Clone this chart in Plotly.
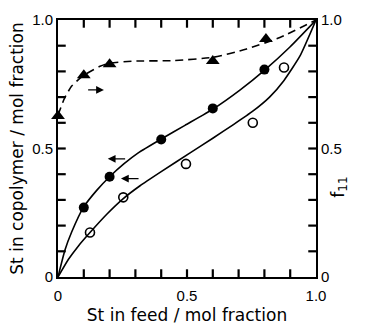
import plotly.graph_objects as go

# Data points
filled_x = [0.1, 0.2, 0.4, 0.6, 0.8]
filled_y = [0.27, 0.39, 0.535, 0.656, 0.807]

open_x = [0.124, 0.253, 0.496, 0.755, 0.876]
open_y = [0.173, 0.31, 0.44, 0.60, 0.815]

tri_x = [0.0, 0.1, 0.2, 0.6, 0.806]
tri_y = [0.626, 0.785, 0.828, 0.84, 0.926]

# Curves
upper_x = [0.0, 0.027, 0.053, 0.098, 0.15, 0.2, 0.255, 0.311, 0.402, 0.492, 0.602, 0.705, 0.802, 0.899, 1.0]
upper_y = [0.0, 0.105, 0.175, 0.27, 0.337, 0.39, 0.44, 0.483, 0.538, 0.59, 0.654, 0.727, 0.806, 0.895, 1.0]

lower_x = [0.0, 0.04, 0.08, 0.124, 0.19, 0.253, 0.318, 0.4, 0.512, 0.6, 0.68, 0.755, 0.82, 0.876, 0.938, 1.0]
lower_y = [0.0, 0.068, 0.122, 0.173, 0.245, 0.305, 0.355, 0.41, 0.483, 0.54, 0.593, 0.645, 0.7, 0.765, 0.86, 1.0]

dash_x = [0.0, 0.025, 0.053, 0.1, 0.163, 0.2, 0.292, 0.447, 0.602, 0.731, 0.86, 1.0]
dash_y = [0.63, 0.695, 0.743, 0.785, 0.82, 0.832, 0.84, 0.842, 0.855, 0.887, 0.932, 1.0]

major_vals = [0.0, 0.5, 1.0]
major_text = ["0", "0.5", "1.0"]
tick_positions = [0.1, 0.2, 0.3, 0.4, 0.5, 0.6, 0.7, 0.8, 0.9]

FONT = "DejaVu Sans"
TICKFONT = "Liberation Sans"
fig = go.Figure()

# Inward tick marks on all four sides (axis decoration, built from tick positions)
TLEN = 0.03
tx, ty = [], []
for v in tick_positions:
    tx += [v, v, None, v, v, None, 0, TLEN, None, 1, 1 - TLEN, None]
    ty += [0, TLEN, None, 1, 1 - TLEN, None, v, v, None, v, v, None]
fig.add_trace(go.Scatter(x=tx, y=ty, mode="lines", line=dict(color="black", width=2.2),
                         hoverinfo="skip", showlegend=False, cliponaxis=False))

line_style = dict(color="black", width=1.6, shape="spline", smoothing=0.5)
fig.add_trace(go.Scatter(x=upper_x, y=upper_y, mode="lines", line=line_style, showlegend=False))
fig.add_trace(go.Scatter(x=lower_x, y=lower_y, mode="lines", line=line_style, showlegend=False))
fig.add_trace(go.Scatter(x=dash_x, y=dash_y, mode="lines", yaxis="y2",
                         line=dict(color="black", width=1.6, dash="8px,5px", shape="spline", smoothing=0.5),
                         showlegend=False))

fig.add_trace(go.Scatter(x=filled_x, y=filled_y, mode="markers",
                         marker=dict(symbol="circle", size=10, color="black"), showlegend=False))
fig.add_trace(go.Scatter(x=open_x, y=open_y, mode="markers",
                         marker=dict(symbol="circle-open", size=9, color="black", line=dict(width=1.6)),
                         showlegend=False))
fig.add_trace(go.Scatter(x=tri_x, y=tri_y, mode="markers", yaxis="y2", cliponaxis=False,
                         marker=dict(symbol="triangle-up", size=12, color="black"), showlegend=False))

axis_common = dict(range=[0, 1], tickmode="array", tickvals=major_vals, ticktext=major_text,
                   ticks="", showline=True, linecolor="black", linewidth=2, automargin=False,
                   showgrid=False, zeroline=False, tickfont=dict(family=TICKFONT, size=15, color="black"))

fig.update_layout(
    width=365, height=325,
    margin=dict(l=58, r=49, t=20, b=48),
    plot_bgcolor="white", paper_bgcolor="white",
    xaxis=dict(**axis_common, mirror=True, ticklabelstandoff=4,
               title=dict(text="St in feed / mol fraction", font=dict(family=FONT, size=17, color="black"), standoff=6)),
    yaxis=dict(**axis_common,
               title=dict(text="St in copolymer / mol fraction", font=dict(family=FONT, size=17, color="black"), standoff=4)),
    yaxis2=dict(**axis_common, overlaying="y", side="right"),
)

# Arrows
arrow = dict(showarrow=True, arrowhead=2, arrowsize=1.2, arrowwidth=1.3, arrowcolor="black",
             text="", axref="x", ayref="y", xref="x", yref="y")
fig.add_annotation(x=0.178, y=0.728, ax=0.111, ay=0.728, **arrow)
fig.add_annotation(x=0.193, y=0.46, ax=0.266, ay=0.46, **arrow)
fig.add_annotation(x=0.244, y=0.383, ax=0.318, ay=0.383, **arrow)

fig.add_annotation(text="f<sub>11</sub>", xref="paper", yref="paper", x=1.14, y=0.35,
                   showarrow=False, textangle=-90, font=dict(family=FONT, size=17, color="black"))

fig.write_html("out.html")
